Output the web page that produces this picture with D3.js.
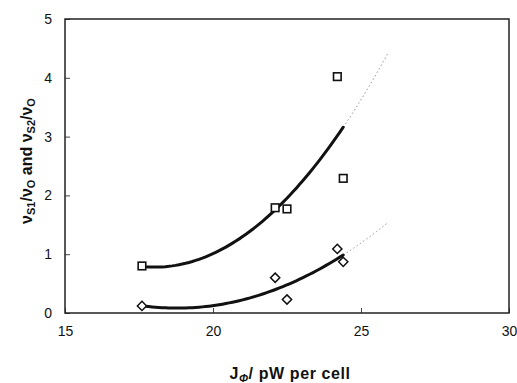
<!DOCTYPE html>
<html>
<head>
<meta charset="utf-8">
<script src="https://cdnjs.cloudflare.com/ajax/libs/d3/7.8.5/d3.min.js"></script>
<style>
  body { margin: 0; background: #fff; }
  svg { display: block; font-family: Arial, "Liberation Sans", sans-serif; }
</style>
</head>
<body>
<div id="chart"></div>
<script>
// données
const jPhi = [17.6, 22.1, 22.5, 24.2, 24.4];
const ratioS1 = [0.80, 1.79, 1.77, 4.02, 2.29];
const ratioS2 = [0.12, 0.60, 0.23, 1.09, 0.87];
const xTicks = [15, 20, 25, 30];
const yTicks = [0, 1, 2, 3, 4, 5];
const fitEnd = 24.4;      // fin de la courbe pleine
const forecastEnd = 25.9; // fin du prolongement pointillé

const width = 517, height = 383;
const margin = { left: 65, right: 8, top: 19, bottom: 70 };

const x = d3.scaleLinear().domain([15, 30]).range([margin.left, width - margin.right]);
const y = d3.scaleLinear().domain([0, 5]).range([height - margin.bottom, margin.top]);

const svg = d3.select("#chart").append("svg")
    .attr("width", width)
    .attr("height", height);

// régression polynomiale d'ordre 2 (moindres carrés)
function polyFit(xs, ys) {
    const n = xs.length;
    let s = [0, 0, 0, 0, 0], t = [0, 0, 0];
    for (let i = 0; i < n; i++) {
        for (let k = 0; k < 5; k++) s[k] += Math.pow(xs[i], k);
        for (let k = 0; k < 3; k++) t[k] += ys[i] * Math.pow(xs[i], k);
    }
    const m = [[s[0], s[1], s[2], t[0]], [s[1], s[2], s[3], t[1]], [s[2], s[3], s[4], t[2]]];
    for (let i = 0; i < 3; i++) {
        for (let j = i + 1; j < 3; j++) {
            const f = m[j][i] / m[i][i];
            for (let k = i; k < 4; k++) m[j][k] -= f * m[i][k];
        }
    }
    const c = [0, 0, 0];
    for (let i = 2; i >= 0; i--) {
        let v = m[i][3];
        for (let k = i + 1; k < 3; k++) v -= m[i][k] * c[k];
        c[i] = v / m[i][i];
    }
    return xv => c[0] + c[1] * xv + c[2] * xv * xv;
}

function sample(f, a, b) {
    return d3.range(0, 61).map(i => {
        const xv = a + (b - a) * i / 60;
        return [xv, f(xv)];
    });
}

const line = d3.line().x(d => x(d[0])).y(d => y(d[1]));

// axes
const xAxis = d3.axisBottom(x).tickValues(xTicks).tickFormat(d3.format("d")).tickSize(-5).tickPadding(13);
const yAxis = d3.axisLeft(y).tickValues(yTicks).tickFormat(d3.format("d")).tickSize(-5).tickPadding(13);

svg.append("g")
    .attr("transform", `translate(0,${height - margin.bottom})`)
    .call(xAxis)
    .call(g => g.select(".domain").remove());
svg.append("g")
    .attr("transform", `translate(${margin.left},0)`)
    .call(yAxis)
    .call(g => g.select(".domain").remove());

svg.selectAll(".tick text")
    .attr("font-size", 14)
    .attr("fill", "#111")
    .attr("font-family", "Arial, 'Liberation Sans', sans-serif");
svg.selectAll(".tick line").attr("stroke", "#444").attr("stroke-width", 1);

// cadre
svg.append("rect")
    .attr("x", x(15)).attr("y", y(5))
    .attr("width", x(30) - x(15)).attr("height", y(0) - y(5))
    .attr("fill", "none").attr("stroke", "#222").attr("stroke-width", 1.5);

// courbes de tendance
[ratioS1, ratioS2].forEach(vals => {
    const f = polyFit(jPhi, vals);
    svg.append("path")
        .attr("d", line(sample(f, fitEnd, forecastEnd)))
        .attr("fill", "none").attr("stroke", "#777")
        .attr("stroke-width", 0.8).attr("stroke-dasharray", "1.5,2.5");
    svg.append("path")
        .attr("d", line(sample(f, d3.min(jPhi), fitEnd)))
        .attr("fill", "none").attr("stroke", "#111")
        .attr("stroke-width", 3).attr("stroke-linecap", "round");
});

// points carrés (S1)
svg.append("g").selectAll("rect")
    .data(jPhi.map((d, i) => [d, ratioS1[i]]))
    .enter().append("rect")
    .attr("x", d => x(d[0]) - 3.8).attr("y", d => y(d[1]) - 3.8)
    .attr("width", 7.6).attr("height", 7.6)
    .attr("fill", "#fff").attr("stroke", "#111").attr("stroke-width", 1.6);

// points losanges (S2)
svg.append("g").selectAll("path")
    .data(jPhi.map((d, i) => [d, ratioS2[i]]))
    .enter().append("path")
    .attr("d", d => {
        const cx = x(d[0]), cy = y(d[1]), r = 4.6;
        return `M${cx},${cy - r}L${cx + r},${cy}L${cx},${cy + r}L${cx - r},${cy}Z`;
    })
    .attr("fill", "#fff").attr("stroke", "#111").attr("stroke-width", 1.5);

// titres des axes
const xTitle = svg.append("text")
    .attr("x", 290).attr("y", 379)
    .attr("text-anchor", "middle")
    .attr("font-size", 16).attr("font-weight", "bold").attr("fill", "#111")
    .attr("letter-spacing", 0.6);
xTitle.append("tspan").text("J");
xTitle.append("tspan").attr("font-size", 11).attr("font-style", "italic").attr("dy", 3).text("Φ");
xTitle.append("tspan").attr("dy", -3).text("/ pW per cell");

const yTitle = svg.append("text")
    .attr("transform", "translate(32,161) rotate(-90)")
    .attr("text-anchor", "middle")
    .attr("font-size", 16).attr("font-weight", "bold").attr("fill", "#111");
yTitle.append("tspan").text("ν");
yTitle.append("tspan").attr("font-size", 11).attr("dy", 3).text("S1");
yTitle.append("tspan").attr("dy", -3).text("/ν");
yTitle.append("tspan").attr("font-size", 11).attr("dy", 3).text("O");
yTitle.append("tspan").attr("dy", -3).text(" and ν");
yTitle.append("tspan").attr("font-size", 11).attr("dy", 3).text("S2");
yTitle.append("tspan").attr("dy", -3).text("/ν");
yTitle.append("tspan").attr("font-size", 11).attr("dy", 3).text("O");
</script>
</body>
</html>
